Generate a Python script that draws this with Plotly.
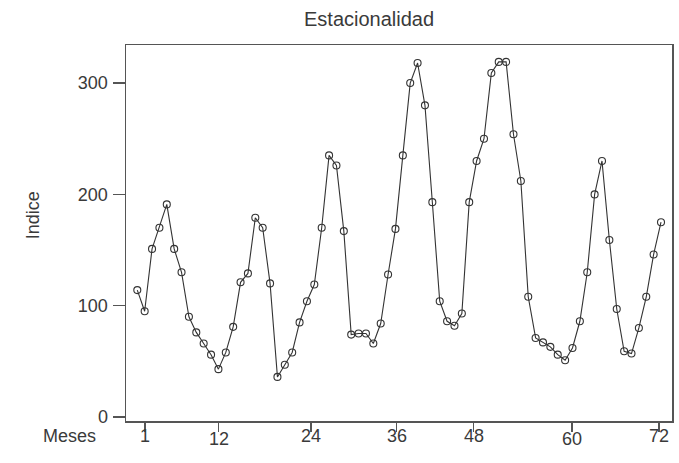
import plotly.graph_objects as go

meses = list(range(1, 73))
indice = [114, 95, 151, 170, 191, 151, 130, 90, 76, 66,
          56, 43, 58, 81, 121, 129, 179, 170, 120, 36,
          47, 58, 85, 104, 119, 170, 235, 226, 167, 74,
          75, 75, 66, 84, 128, 169, 235, 300, 318, 280,
          193, 104, 86, 82, 93, 193, 230, 250, 309, 319,
          319, 254, 212, 108, 71, 67, 63, 56, 51, 62,
          86, 130, 200, 230, 159, 97, 59, 57, 80, 108, 146, 175]

x_tick_pos = [2.04, 12.03, 24.55, 36.17, 46.6, 59.94, 71.73]
x_tick_labels = ["1", "12", "24", "36", "48", "60", "72"]
x_label_drop = [0, 3, 0, 0, 0, 3, 0]
y_ticks = [0, 100, 200, 300]

txt = "#3a3a3a"
font = "Liberation Sans, Arial, sans-serif"

W, H = 679, 463
L, R, T, B = 126, 5, 45, 42
pw, ph = W - L - R, H - T - B

fig = go.Figure()
fig.add_trace(go.Scatter(
    x=meses, y=indice, mode="lines+markers",
    line=dict(color="#333333", width=1.1),
    marker=dict(symbol="circle-open", size=7, color="#333333", line=dict(width=1.1)),
    showlegend=False, hoverinfo="skip"))

annotations = []
for pos, lab, drop in zip(x_tick_pos, x_tick_labels, x_label_drop):
    annotations.append(dict(x=pos, y=0, xref="x", yref="paper", text=lab,
                            showarrow=False, yanchor="middle", yshift=-15 - drop,
                            font=dict(size=18, color=txt, family=font)))
annotations.append(dict(x=(69 - L) / pw, y=0, xref="paper", yref="paper", text="Meses",
                        showarrow=False, xanchor="center", yanchor="middle", yshift=-15,
                        font=dict(size=18, color=txt, family=font)))
annotations.append(dict(x=(33 - L) / pw, y=(H - B - 215) / ph, xref="paper", yref="paper",
                        text="Indice", textangle=-90, showarrow=False,
                        xanchor="center", yanchor="middle",
                        font=dict(size=18, color=txt, family=font)))
annotations.append(dict(x=(370 - L) / pw, y=(H - B - 19) / ph, xref="paper", yref="paper",
                        text="Estacionalidad", showarrow=False,
                        xanchor="center", yanchor="middle",
                        font=dict(size=20, color=txt, family=font)))

fig.update_layout(
    width=W, height=H,
    margin=dict(l=L, r=R, t=T, b=B),
    paper_bgcolor="white", plot_bgcolor="white",
    annotations=annotations,
    xaxis=dict(range=[-0.53, 73.49], tickvals=x_tick_pos, showticklabels=False,
               ticks="outside", ticklen=9, tickwidth=1.3, tickcolor="#555555",
               showline=True, linecolor="#555555", linewidth=1.5, mirror=True,
               showgrid=False, zeroline=False),
    yaxis=dict(range=[-3.6, 334.2], tickvals=y_ticks,
               ticks="outside", ticklen=12, tickwidth=1.3, tickcolor="#555555",
               ticklabelstandoff=1,
               tickfont=dict(size=18, color=txt, family=font),
               showline=True, linecolor="#555555", linewidth=1.5, mirror=True,
               showgrid=False, zeroline=False),
)

fig.write_html("out.html",
               config={"displayModeBar": False, "staticPlot": True},
               post_script="document.body.style.margin='0px';document.body.style.overflow='hidden';")
